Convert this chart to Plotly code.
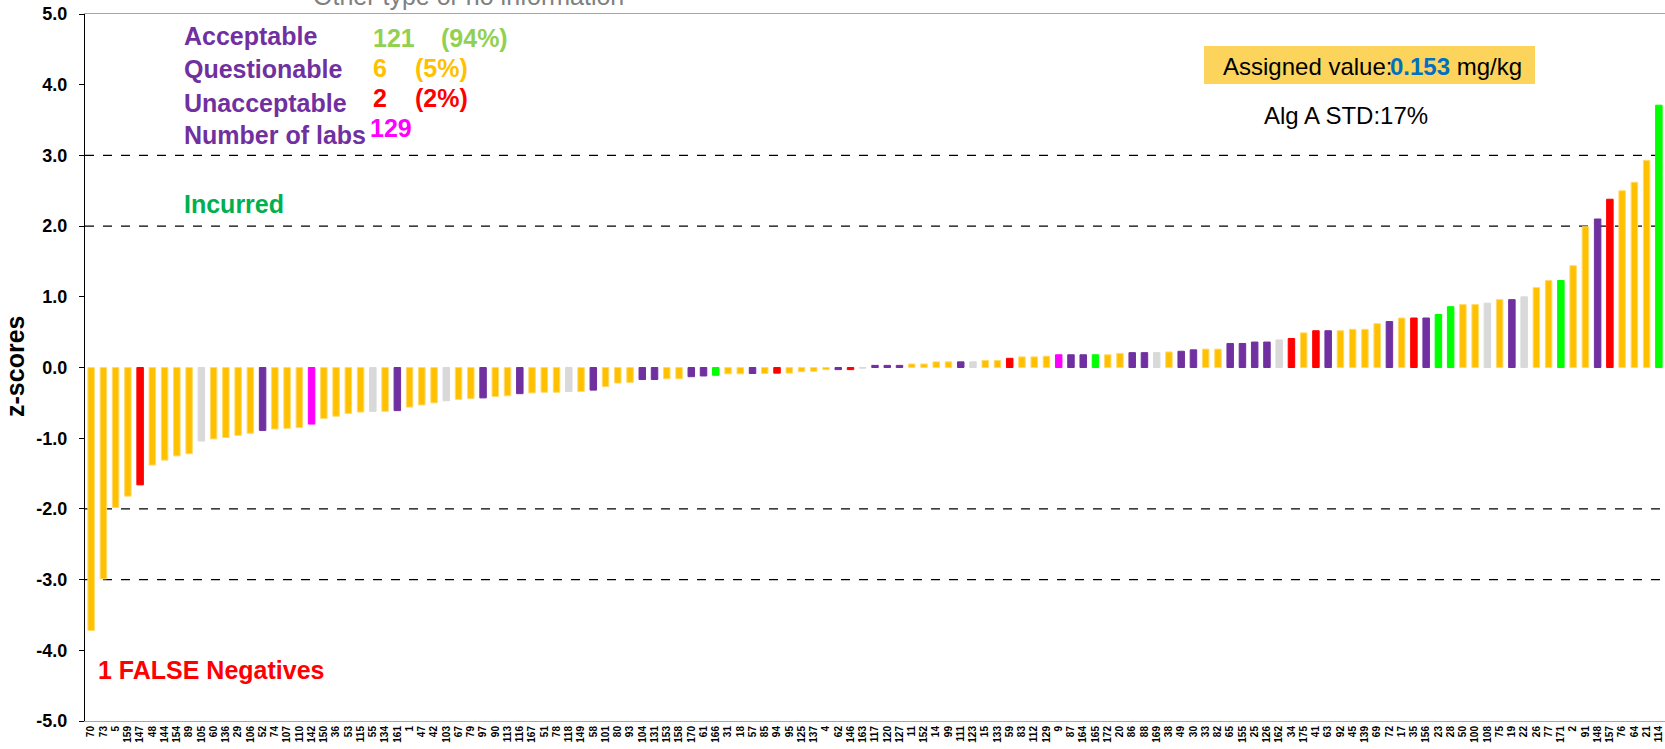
import plotly.graph_objects as go

# Lab codes in ranked order, their z-scores and method group
labs = [
    "70", "73", "5", "159", "147", "48", "144", "154", "89", "105", "60", "136", "29", "106", "52", "74",
    "107", "110", "142", "150", "36", "53", "115", "55", "134", "161", "1", "47", "42", "103", "67", "79",
    "97", "90", "113", "116", "167", "51", "78", "118", "149", "58", "101", "80", "93", "104", "131", "153",
    "158", "170", "61", "166", "31", "18", "57", "85", "94", "95", "125", "137", "4", "62", "146", "163",
    "117", "120", "127", "11", "152", "14", "99", "111", "123", "15", "133", "59", "83", "112", "129", "9",
    "87", "164", "165", "172", "20", "86", "88", "169", "38", "49", "30", "33", "82", "65", "155", "25",
    "126", "162", "34", "175", "41", "63", "92", "45", "139", "69", "72", "17", "35", "156", "23", "28",
    "50", "100", "108", "75", "19", "22", "26", "77", "171", "2", "91", "148", "157", "76", "64", "21", "114",
]

z_scores = [
    -3.72, -2.99, -1.98, -1.82, -1.66, -1.38, -1.31, -1.25, -1.22, -1.04, -1.01, -0.99, -0.96, -0.93, -0.89, -0.87,
    -0.86, -0.85, -0.80, -0.72, -0.69, -0.65, -0.63, -0.62, -0.62, -0.61, -0.56, -0.53, -0.50, -0.47, -0.45, -0.44,
    -0.43, -0.41, -0.40, -0.37, -0.36, -0.35, -0.35, -0.34, -0.34, -0.32, -0.27, -0.22, -0.21, -0.17, -0.17, -0.16,
    -0.16, -0.13, -0.12, -0.11, -0.09, -0.09, -0.085, -0.085, -0.08, -0.08, -0.06, -0.055, -0.03, -0.03, -0.03, -0.01,
    0.03, 0.03, 0.03, 0.05, 0.05, 0.08, 0.08, 0.08, 0.08, 0.10, 0.10, 0.13, 0.15, 0.15, 0.16, 0.18,
    0.18, 0.18, 0.18, 0.18, 0.20, 0.21, 0.21, 0.21, 0.22, 0.23, 0.25, 0.26, 0.26, 0.34, 0.34, 0.36,
    0.36, 0.39, 0.41, 0.49, 0.52, 0.52, 0.52, 0.54, 0.54, 0.62, 0.65, 0.70, 0.70, 0.70, 0.75, 0.86,
    0.89, 0.89, 0.91, 0.96, 0.96, 1.00, 1.13, 1.23, 1.23, 1.44, 1.99, 2.10, 2.38, 2.50, 2.62, 2.93, 3.71,
]

# o = other / no info, p, r, m, l, n = the remaining method groups
groups = [
    "o", "o", "o", "o", "r", "o", "o", "o", "o", "n", "o", "o", "o", "o", "p", "o",
    "o", "o", "m", "o", "o", "o", "o", "n", "o", "p", "o", "o", "o", "n", "o", "o",
    "p", "o", "o", "p", "o", "o", "o", "n", "o", "p", "o", "o", "o", "p", "p", "o",
    "o", "p", "p", "l", "o", "o", "p", "o", "r", "o", "o", "o", "o", "p", "r", "n",
    "p", "p", "p", "o", "o", "o", "o", "p", "n", "o", "o", "r", "o", "o", "o", "m",
    "p", "p", "l", "o", "o", "p", "p", "n", "o", "p", "p", "o", "o", "p", "p", "p",
    "p", "n", "r", "o", "r", "p", "o", "o", "o", "o", "p", "o", "r", "p", "l", "l",
    "o", "o", "n", "o", "p", "n", "o", "o", "l", "o", "o", "p", "r", "o", "o", "o", "l",
]

y_ticks = [5, 4, 3, 2, 1, 0, -1, -2, -3, -4, -5]
limit_lines = [3, 2, -2, -3]

fill = {"o": "#FFC000", "p": "#7030A0", "n": "#D9D9D9", "r": "#FF0000", "m": "#FF00FF", "l": "#00FF00"}
edge = {"o": "#FFDA6A", "p": "#7030A0", "n": "#D9D9D9", "r": "#FF0000", "m": "#FF00FF", "l": "#00FF00"}

W, H = 1665, 749
ML, MR, MT, MB = 85, 0, 14, 28
FONT = "Liberation Sans, Arial, sans-serif"


def px(x):
    return (x - ML) / (W - ML - MR)


def py(y):
    return (H - MB - y) / (H - MT - MB)


fig = go.Figure(
    go.Bar(
        x=labs,
        y=z_scores,
        marker=dict(color=[fill[g] for g in groups],
                    line=dict(color=[edge[g] for g in groups], width=1)),
        showlegend=False,
    )
)

for v in limit_lines:
    fig.add_shape(type="line", xref="paper", x0=0, x1=1, yref="y", y0=v, y1=v,
                  line=dict(color="black", width=1.2, dash="dash"), layer="below")

# assigned value box
fig.add_shape(type="rect", xref="paper", yref="paper",
              x0=px(1204), x1=px(1535), y0=py(84), y1=py(46),
              fillcolor="#FCD45C", line=dict(width=0), layer="below")


def note(text, x, y, color, size=25, bold=True, xanchor="left", angle=0):
    fig.add_annotation(text=text, xref="paper", yref="paper", x=px(x), y=py(y),
                       xanchor=xanchor, yanchor="middle", showarrow=False, textangle=angle,
                       font=dict(family=FONT, size=size, color=color,
                                 weight="bold" if bold else "normal"))


purple = "#7030A0"
note("Other type or no information", 311, -4, "#808080", size=25, bold=False)
note("Acceptable", 182, 36, purple)
note("121", 371, 38, "#92D050")
note("(94%)", 439, 38, "#92D050")
note("Questionable", 182, 69, purple)
note("6", 371, 68, "#FFC000")
note("(5%)", 413, 68, "#FFC000")
note("Unacceptable", 182, 103, purple)
note("2", 371, 98, "#FF0000")
note("(2%)", 413, 98, "#FF0000")
note("Number of labs", 182, 135, purple)
note("129", 368, 128, "#FF00FF")
note("Incurred", 182, 204, "#00B050")
note("1 FALSE Negatives", 96, 670, "#FF0000")
note("Assigned value:", 1394, 66, "black", size=24, bold=False, xanchor="right")
note("<span style='color:#0070C0'><b>0.153</b></span> mg/kg", 1388, 66, "black", size=24, bold=False)
note("Alg A STD:17%", 1262, 115, "black", size=24, bold=False)
note("z-scores", 15, 367, "black", size=25, angle=-90, xanchor="center")

fig.update_layout(
    width=W, height=H,
    margin=dict(l=ML, r=MR, t=MT, b=MB, pad=0),
    paper_bgcolor="white", plot_bgcolor="white",
    bargap=0.47,
    font=dict(family=FONT, color="black"),
    xaxis=dict(type="category", tickmode="array", tickvals=labs, ticktext=labs,
               tickangle=-90, tickfont=dict(size=10, weight="bold"),
               showline=True, linecolor="#A6A6A6", linewidth=1, mirror=True,
               showgrid=False, ticks="", automargin=False),
    yaxis=dict(range=[-5, 5], tickmode="array", tickvals=y_ticks,
               ticktext=[f"{v:.1f}" for v in y_ticks],
               tickfont=dict(size=18, weight="bold"), ticklabelstandoff=8,
               ticks="outside", ticklen=5, tickcolor="black",
               showline=True, linecolor="black", linewidth=1,
               showgrid=False, zeroline=False, automargin=False),
)

fig.write_html("out.html")
